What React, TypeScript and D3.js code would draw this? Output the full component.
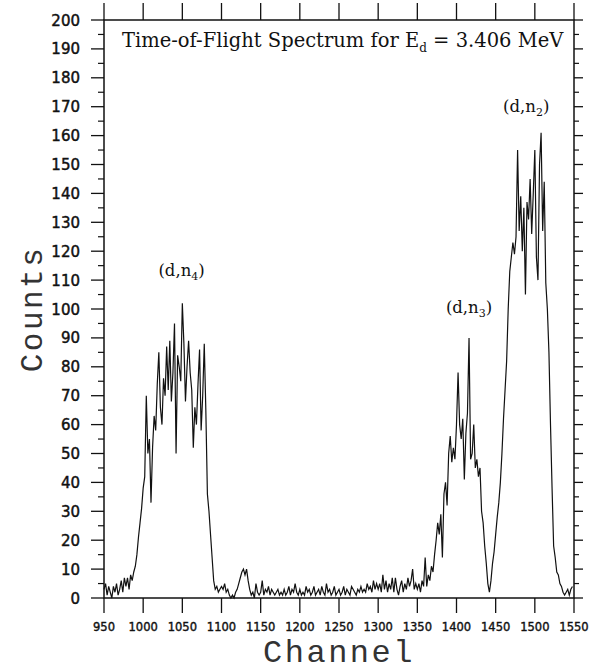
import React from "react";
import * as d3 from "d3";

// Spectrum binning: first channel and channels per bin
const START_CHANNEL = 950;
const BIN_WIDTH = 2;

// Counts per 2-channel bin, channels 950 .. 1548
const counts: number[] = [
  // 950 - 998
  3, 5, 1, 4, 2, 0, 4, 2, 5, 1, 3, 6, 2, 7, 4, 7, 3, 8, 6, 9, 11, 15, 21, 26, 31,
  // 1000 - 1048
  38, 42, 70, 50, 55, 33, 52, 63, 58, 74, 85, 66, 60, 76, 70, 87, 72, 89, 68, 78, 95, 50, 84, 80, 75,
  // 1050 - 1098
  102, 88, 68, 80, 89, 78, 72, 52, 66, 60, 74, 86, 58, 70, 88, 65, 36, 30, 22, 14, 6, 3, 4, 2, 3,
  // 1100 - 1148
  4, 3, 5, 2, 3, 1, 0, 1, 0, 2, 3, 5, 7, 9, 10, 8, 10, 6, 3, 1, 2, 0, 5, 2, 1,
  // 1150 - 1198
  2, 6, 1, 3, 2, 4, 1, 3, 2, 1, 2, 3, 1, 2, 1, 3, 1, 2, 4, 1, 3, 2, 5, 2, 1,
  // 1200 - 1248
  3, 1, 2, 1, 4, 2, 3, 1, 2, 4, 1, 2, 3, 1, 4, 2, 1, 5, 2, 3, 1, 2, 4, 1, 2,
  // 1250 - 1298
  3, 1, 2, 4, 1, 3, 2, 1, 4, 3, 2, 1, 3, 2, 4, 2, 3, 2, 5, 3, 4, 2, 6, 3, 5,
  // 1300 - 1348
  3, 5, 2, 8, 3, 6, 2, 5, 3, 7, 2, 7, 3, 1, 4, 6, 2, 5, 3, 7, 4, 6, 10, 3, 5,
  // 1350 - 1398
  3, 5, 2, 6, 4, 14, 4, 8, 6, 11, 9, 15, 20, 26, 22, 29, 14, 36, 40, 32, 50, 56, 47, 52, 48,
  // 1400 - 1448
  60, 78, 60, 55, 62, 41, 57, 64, 90, 48, 50, 60, 45, 48, 42, 45, 30, 26, 18, 12, 5, 2, 6, 12, 16,
  // 1450 - 1498
  22, 28, 33, 40, 50, 62, 72, 82, 100, 113, 118, 123, 119, 125, 155, 127, 139, 120, 135, 105, 137, 131, 145, 126, 140,
  // 1500 - 1548
  155, 118, 110, 150, 161, 127, 144, 109, 100, 85, 60, 38, 18, 14, 9, 8, 5, 4, 2, 1, 2, 3, 1, 3, 4,
];

const xTickValues = [950, 1000, 1050, 1100, 1150, 1200, 1250, 1300, 1350, 1400, 1450, 1500, 1550];
const yTickValues = [0, 10, 20, 30, 40, 50, 60, 70, 80, 90, 100, 110, 120, 130, 140, 150, 160, 170, 180, 190, 200];
const yMinorTickValues = [5, 15, 25, 35, 45, 55, 65, 75, 85, 95, 105, 115, 125, 135, 145, 155, 165, 175, 185, 195];

// Peak annotations: reaction label, subscript, anchor channel and count level
const peakNames = ["(d,n", "(d,n", "(d,n"];
const peakSubs = ["4", "3", "2"];
const peakChannels = [1049, 1416, 1489];
const peakLevels = [111.5, 98.5, 168];

const W = 597;
const H = 671;

export default function App() {
  const x = d3.scaleLinear().domain([950, 1550]).range([104, 574]);
  const y = d3.scaleLinear().domain([0, 200]).range([598, 20]);

  const line = d3
    .line<number>()
    .x((_, i) => x(START_CHANNEL + i * BIN_WIDTH))
    .y((d) => y(d))
    .curve(d3.curveLinear);

  const [x0, x1] = x.range();
  const [y0, y1] = y.range();
  const ink = "#111";
  const tickFont = "'DejaVu Sans', sans-serif";

  return (
    <svg
      width={W}
      height={H}
      viewBox={`0 0 ${W} ${H}`}
      style={{ position: "absolute", left: 0, top: 0, background: "#fff" }}
    >
      <rect x={0} y={0} width={W} height={H} fill="#fff" />

      {/* frame */}
      <rect x={x0} y={y1} width={x1 - x0} height={y0 - y1} fill="none" stroke={ink} strokeWidth={1.5} />

      {/* left axis ticks */}
      {yTickValues.map((v) => (
        <line key={`yl${v}`} x1={x0 - 13} x2={x0} y1={y(v)} y2={y(v)} stroke={ink} strokeWidth={1.3} />
      ))}
      {yMinorTickValues.map((v) => (
        <line key={`ylm${v}`} x1={x0 - 6} x2={x0} y1={y(v)} y2={y(v)} stroke={ink} strokeWidth={1.2} />
      ))}

      {/* right axis ticks */}
      {yTickValues.map((v) => (
        <line key={`yr${v}`} x1={x1} x2={x1 + 9} y1={y(v)} y2={y(v)} stroke={ink} strokeWidth={1.3} />
      ))}
      {yMinorTickValues.map((v) => (
        <line key={`yrm${v}`} x1={x1} x2={x1 + 5} y1={y(v)} y2={y(v)} stroke={ink} strokeWidth={1.2} />
      ))}

      {/* top and bottom ticks */}
      {xTickValues.map((v) => (
        <g key={`xt${v}`}>
          <line x1={x(v)} x2={x(v)} y1={y1 - 17} y2={y1} stroke={ink} strokeWidth={1.3} />
          <line x1={x(v)} x2={x(v)} y1={y0} y2={y0 + 15} stroke={ink} strokeWidth={1.3} />
        </g>
      ))}

      {/* tick labels */}
      {yTickValues.map((v) => (
        <text
          key={`ylab${v}`}
          x={80}
          y={y(v) + 5.5}
          textAnchor="end"
          fontFamily={tickFont}
          fontSize={15}
          fill={ink}
          stroke={ink}
          strokeWidth={0.45}
        >
          {v}
        </text>
      ))}
      {xTickValues.map((v) => (
        <text
          key={`xlab${v}`}
          x={x(v)}
          y={631}
          textAnchor="middle"
          fontFamily={tickFont}
          fontSize={11.5}
          fill={ink}
          stroke={ink}
          strokeWidth={0.4}
        >
          {v}
        </text>
      ))}

      {/* spectrum */}
      <path d={line(counts) ?? ""} fill="none" stroke={ink} strokeWidth={1.2} strokeLinejoin="miter" />

      {/* title */}
      <text x={122} y={47} fontFamily="'DejaVu Serif', serif" fontSize={19.5} fill={ink}>
        Time-of-Flight Spectrum for E
        <tspan fontSize={12} dy={5}>d</tspan>
        <tspan dy={-5}> = 3.406 MeV</tspan>
      </text>

      {/* peak labels */}
      {peakNames.map((name, i) => (
        <text
          key={`pk${i}`}
          x={x(peakChannels[i])}
          y={y(peakLevels[i])}
          textAnchor="middle"
          fontFamily="'DejaVu Serif', serif"
          fontSize={16.5}
          fill={ink}
        >
          {name}
          <tspan fontSize={11} dy={4}>{peakSubs[i]}</tspan>
          <tspan dy={-4}>)</tspan>
        </text>
      ))}

      {/* axis titles */}
      <text
        x={(x0 + x1) / 2}
        y={662}
        textAnchor="middle"
        fontFamily="'Liberation Mono', monospace"
        fontSize={32}
        letterSpacing={2.5}
        fill="#333"
      >
        Channel
      </text>
      <text
        transform={`translate(42, ${(y0 + y1) / 2}) rotate(-90)`}
        textAnchor="middle"
        fontFamily="'Liberation Mono', monospace"
        fontSize={31}
        letterSpacing={2.5}
        fill="#333"
      >
        Counts
      </text>
    </svg>
  );
}
